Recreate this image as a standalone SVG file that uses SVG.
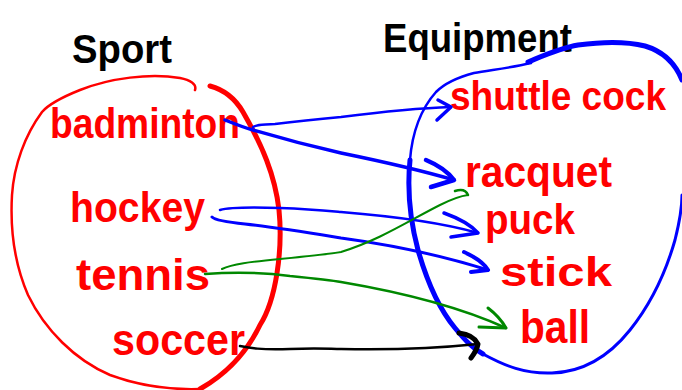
<svg xmlns="http://www.w3.org/2000/svg" width="682" height="390" viewBox="0 0 682 390">
  <style>
    .lbl { font-family: "Liberation Sans", Arial, sans-serif; font-weight: bold; fill: #ff0000; }
    .title { font-family: "Liberation Sans", Arial, sans-serif; font-weight: bold; fill: #000000; }
    .ink { fill: none; stroke-linecap: round; stroke-linejoin: round; }
    .blue { stroke: #0000ff; }
    .green { stroke: #008800; }
    .black { stroke: #000000; }
    .red { stroke: #ff0000; }
  </style>
  <rect width="682" height="390" fill="#ffffff"/>

  <!-- headings -->
  <g id="title-sport">
    <text class="title" x="72" y="63" font-size="40" textLength="100" lengthAdjust="spacingAndGlyphs">Sport</text>
  </g>
  <g id="title-equipment">
    <text class="title" x="383" y="52" font-size="40" font-weight="normal" textLength="189" lengthAdjust="spacingAndGlyphs">Equipment</text>
  </g>

  <!-- set outlines -->
  <g id="set-sport">
    <path class="ink red" stroke-width="2.5" d="M195,90 C197,84 190,80 180,78 C150,73 110,78 80,90 C60,98 48,105 42,112 C25,135 14,165 12,195 C10,230 15,265 28,295 C45,330 75,360 110,375 C140,386 170,390 200,389"/>
    <path class="ink red" stroke-width="5" d="M210,86 C225,90 236,100 243,112 C262,145 275,175 279,210 C283,250 276,300 260,325 C248,350 230,372 200,389"/>
  </g>
  <g id="set-equipment">
    <path class="ink blue" stroke-width="2.5" d="M531,63 C510,68 490,70 474,73 C455,78 444,84 436,92 C420,110 412,135 410,160"/>
    <path class="ink blue" stroke-width="5" d="M410,160 C407,190 410,220 418,250 C428,285 440,310 455,328 C465,340 472,348 483,354"/>
    <path class="ink blue" stroke-width="3" d="M483,354 C505,366 525,374 552,373 C585,372 610,355 630,330 C650,305 665,275 675,240 C680,220 682,205 682,195"/>
    <path class="ink blue" stroke-width="5" d="M528,62 C545,55 560,48 578,45 C600,42 625,41 645,46 C665,52 676,65 682,80"/>
  </g>

  <!-- sport labels -->
  <g id="sport-badminton"><text class="lbl" x="50" y="138" font-size="42" textLength="190" lengthAdjust="spacingAndGlyphs">badminton</text></g>
  <g id="sport-hockey"><text class="lbl" x="70" y="222" font-size="42" textLength="135" lengthAdjust="spacingAndGlyphs">hockey</text></g>
  <g id="sport-tennis"><text class="lbl" x="76" y="290" font-size="44" textLength="134" lengthAdjust="spacingAndGlyphs">tennis</text></g>
  <g id="sport-soccer"><text class="lbl" x="112" y="355" font-size="44" textLength="133" lengthAdjust="spacingAndGlyphs">soccer</text></g>

  <!-- equipment labels -->
  <g id="equip-shuttlecock"><text class="lbl" x="450" y="110" font-size="40" textLength="216" lengthAdjust="spacingAndGlyphs">shuttle cock</text></g>
  <g id="equip-racquet"><text class="lbl" x="465" y="187" font-size="44" textLength="147" lengthAdjust="spacingAndGlyphs">racquet</text></g>
  <g id="equip-puck"><text class="lbl" x="485" y="234" font-size="42" textLength="90" lengthAdjust="spacingAndGlyphs">puck</text></g>
  <g id="equip-stick"><text class="lbl" x="500" y="286" font-size="40" textLength="112" lengthAdjust="spacingAndGlyphs">stick</text></g>
  <g id="equip-ball"><text class="lbl" x="520" y="343" font-size="46" textLength="70" lengthAdjust="spacingAndGlyphs">ball</text></g>

  <!-- connectors -->
  <g id="connectors">
    <!-- badminton -> shuttle cock -->
    <path class="ink blue" stroke-width="2.5" d="M253,127 C258,124 262,125 275,124 C300,121 320,119 341,117 C380,112 420,108 451,107"/>
    <path class="ink blue" stroke-width="3.5" d="M438,100 L451,107 L437,120"/>
    <!-- badminton -> racquet -->
    <path class="ink blue" stroke-width="3.5" d="M225,120 C235,124 245,128 253,130 C280,138 310,146 341,153 C380,161 420,170 454,180"/>
    <path class="ink blue" stroke-width="4.5" d="M426,160 C438,165 448,172 454,180 L431,187"/>
    <!-- hockey -> puck -->
    <path class="ink blue" stroke-width="2.5" d="M220,210 C230,207 250,207 280,208 C310,209 330,211 341,212 C390,216 440,222 478,233"/>
    <path class="ink blue" stroke-width="3.5" d="M444,213 C458,218 470,224 478,233 L451,237"/>
    <!-- hockey -> stick -->
    <path class="ink blue" stroke-width="3" d="M212,217 C215,220 225,222 245,224 C280,228 310,233 341,238 C400,246 450,258 488,270"/>
    <path class="ink blue" stroke-width="4" d="M464,252 C475,257 484,263 488,270 L471,272"/>
    <!-- tennis -> racquet -->
    <path class="ink green" stroke-width="2" d="M222,269 C232,264 250,262 280,259 C310,256 330,254 341,252 C380,240 410,220 440,205 C452,199 460,196 468,195"/>
    <path class="ink green" stroke-width="2.5" d="M455,191 C461,189 466,190 468,195"/>
    <!-- tennis -> ball -->
    <path class="ink green" stroke-width="2.5" d="M205,274 C230,272 260,272 290,276 C310,278 330,280 341,282 C400,292 460,307 506,328"/>
    <path class="ink green" stroke-width="3" d="M488,308 C496,314 502,321 506,328 L479,327"/>
    <!-- soccer -> ball -->
    <path class="ink black" stroke-width="2.5" d="M240,346 C250,348 260,350 290,349 C320,348 330,349 341,349 C390,350 440,348 478,344"/>
    <path class="ink black" stroke-width="5" d="M459,333 C468,334 475,338 478,344 C477,350 474,354 471,358"/>
  </g>
</svg>
